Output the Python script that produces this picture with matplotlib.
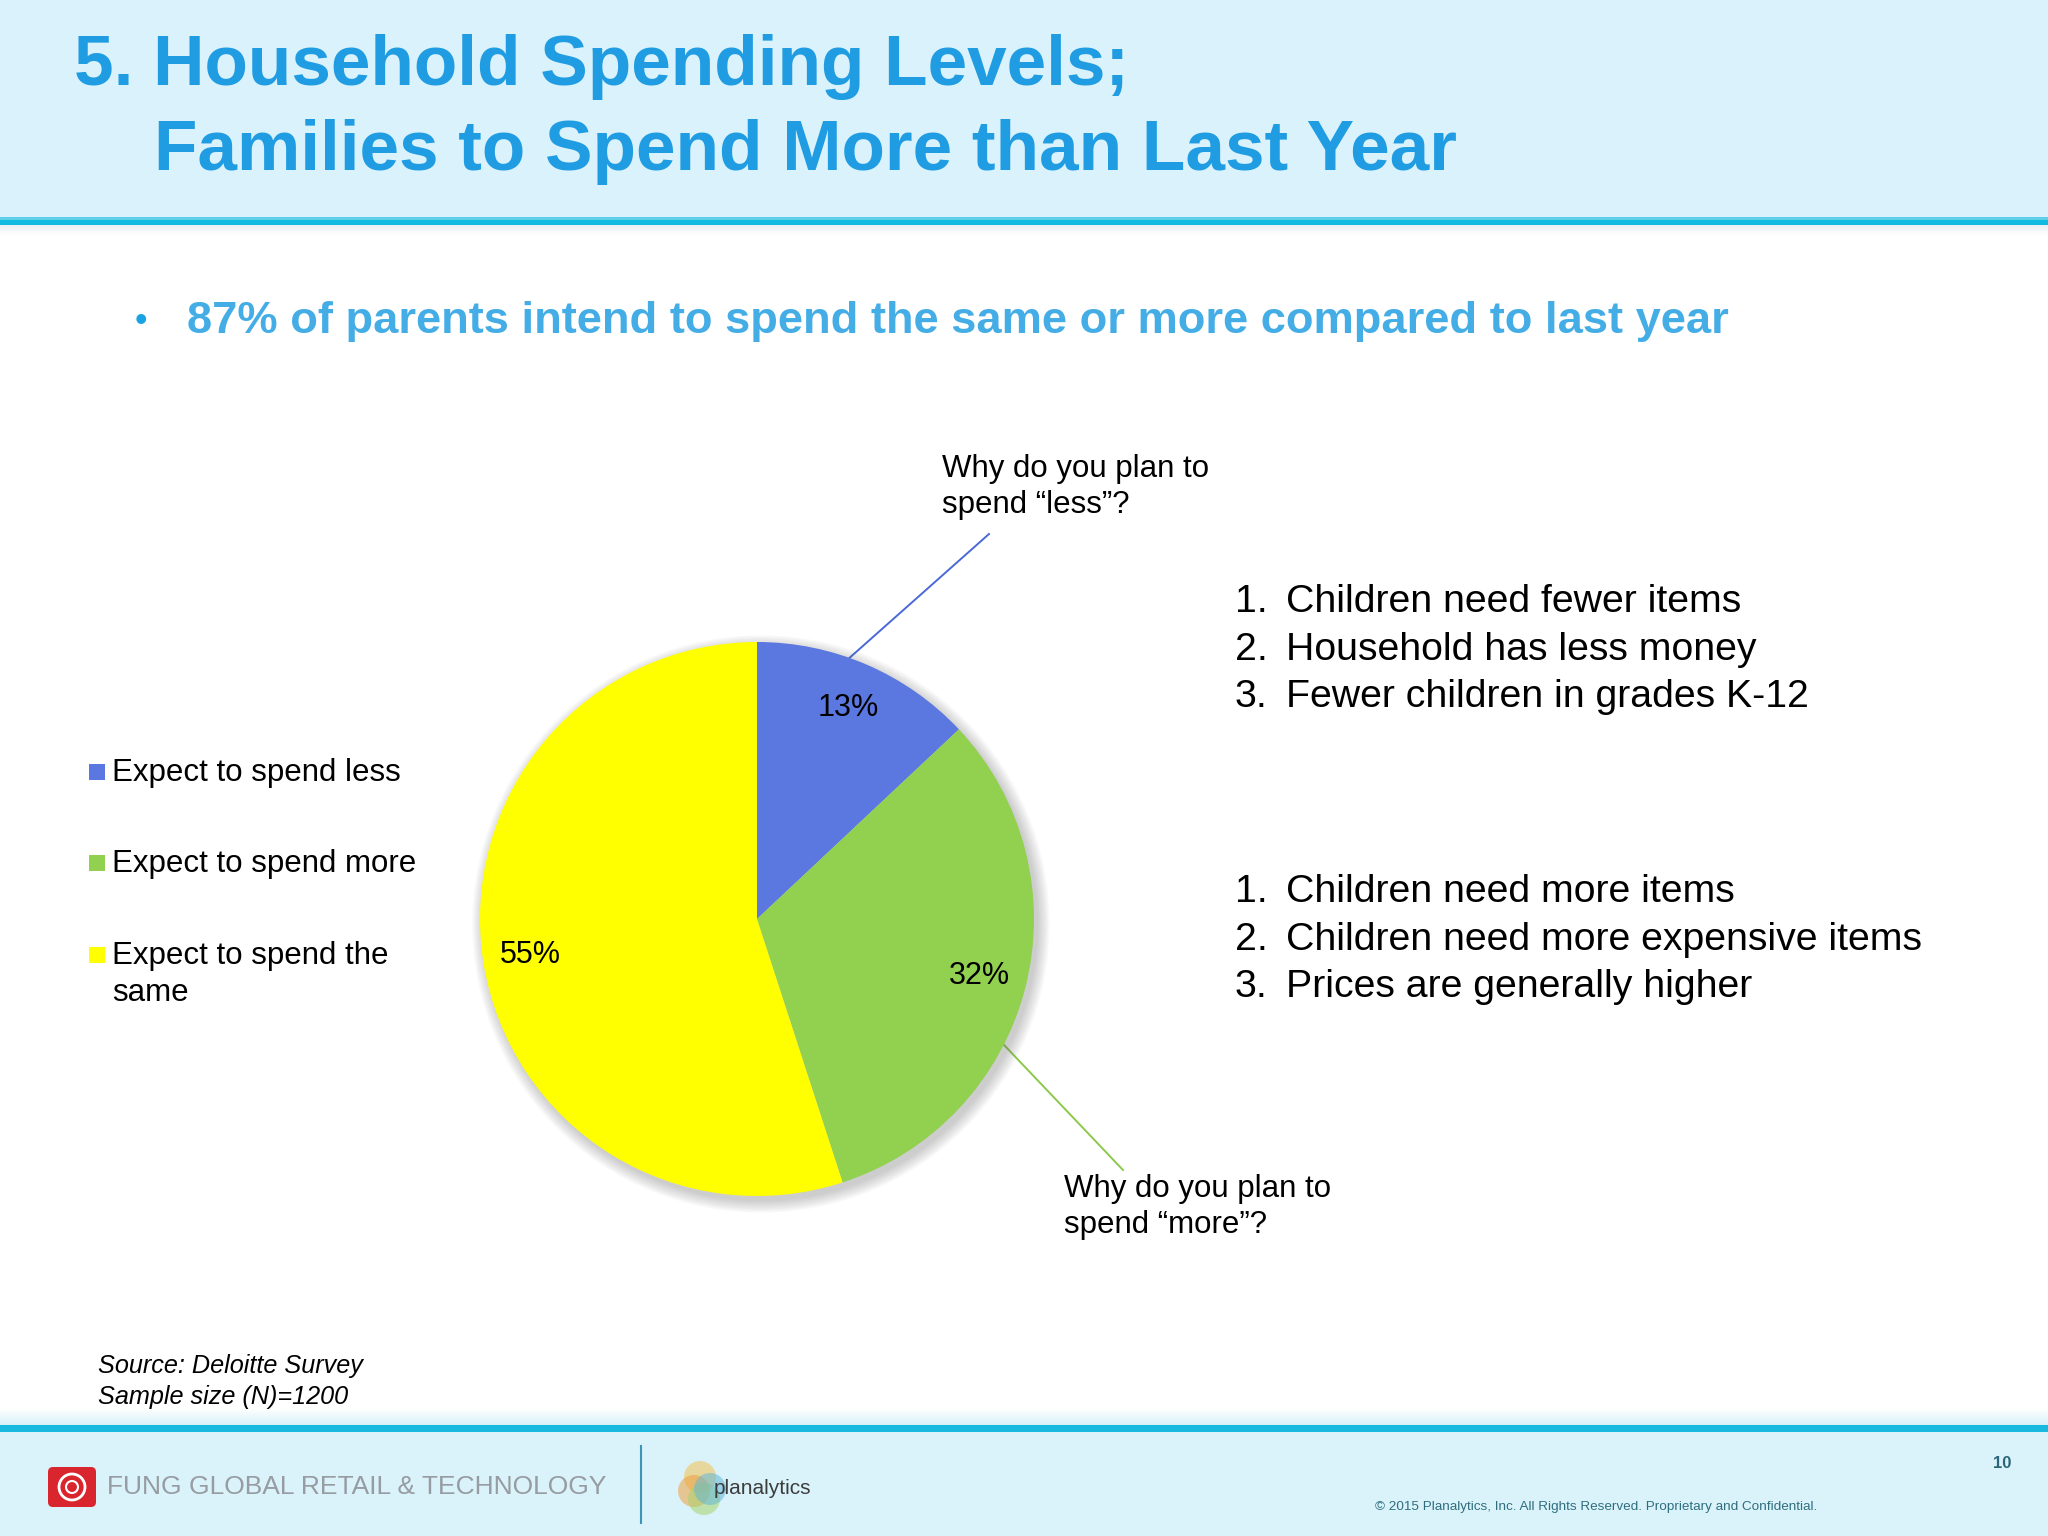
import numpy as np
import matplotlib
matplotlib.use("Agg")
import matplotlib.pyplot as plt
from matplotlib.patches import Rectangle, Circle, FancyBboxPatch

plt.rcParams['font.family'] = ['Liberation Sans', 'DejaVu Sans']

# ---- data ----
categories = ['Expect to spend less', 'Expect to spend more', 'Expect to spend the\nsame']
shares = [13, 32, 55]
colors = ['#5b77e0', '#92d050', '#ffff00']

title_lines = ['5. Household Spending Levels;', 'Families to Spend More than Last Year']
bullet = '87% of parents intend to spend the same or more compared to last year'
less_question = 'Why do you plan to\nspend \u201cless\u201d?'
more_question = 'Why do you plan to\nspend \u201cmore\u201d?'
less_reasons = ['Children need fewer items', 'Household has less money', 'Fewer children in grades K-12']
more_reasons = ['Children need more items', 'Children need more expensive items', 'Prices are generally higher']
source_lines = ['Source: Deloitte Survey', 'Sample size (N)=1200']

W, H = 2048, 1536
fig = plt.figure(figsize=(W / 100, H / 100), dpi=100)
fig.patch.set_facecolor('white')

bg = fig.add_axes([0, 0, 1, 1])
bg.set_xlim(0, W)
bg.set_ylim(H, 0)
bg.axis('off')

# header band
bg.add_patch(Rectangle((0, 0), W, 219, color='#d9f2fb', lw=0))
bg.add_patch(Rectangle((0, 217), W, 4, color='#5fd0ea', lw=0))
bg.add_patch(Rectangle((0, 220), W, 5, color='#12bbdf', lw=0))
for i in range(10):
    bg.add_patch(Rectangle((0, 225 + i), W, 1, color='#c8d6dc', alpha=0.35 * (1 - i / 10), lw=0))

# footer band
for i in range(18):
    bg.add_patch(Rectangle((0, 1408 + i), W, 1, color='#d4f0f9', alpha=i / 18, lw=0))
bg.add_patch(Rectangle((0, 1425), W, 7, color='#17b9de', lw=0))
bg.add_patch(Rectangle((0, 1432), W, H - 1432, color='#daf3fb', lw=0))

# title
bg.text(74, 67, title_lines[0], fontsize=51.2, fontweight='bold', color='#1f9ce2', va='center', ha='left')
bg.text(154, 152, title_lines[1], fontsize=51.2, fontweight='bold', color='#1f9ce2', va='center', ha='left')

# bullet
bg.text(141, 321, '\u2022', fontsize=26, color='#1aa3e2', va='center', ha='center')
bg.text(187, 321, bullet, fontsize=32.6, fontweight='bold', color='#45ade6', va='center', ha='left')

# pie
cx, cy, r = 757, 919, 277
pax = fig.add_axes([(cx - r) / W, 1 - (cy + r) / H, 2 * r / W, 2 * r / H])
for k in range(8):
    pax.add_patch(Circle((0.014, -0.018), 1.0 + k * 0.006, color='#606060', alpha=0.045,
                         lw=0, zorder=0, clip_on=False))
wedges, _, autotexts = pax.pie(shares, colors=colors, startangle=90, counterclock=False,
                               radius=1, autopct=lambda p: f'{p:.0f}%', pctdistance=0.83,
                               wedgeprops=dict(linewidth=0),
                               textprops=dict(fontsize=22, color='black'))
for w in wedges:
    w.set_zorder(2)
for t in autotexts:
    t.set_zorder(3)
pax.set_xlim(-1, 1)
pax.set_ylim(-1, 1)
pax.set_aspect('equal')
pax.axis('off')

# leader lines from the slice edge to the questions
leaders = [(70.5, (989, 534), '#4a68d8'), (-27.0, (1123, 1170), '#8cc84b')]
for ang, end, col in leaders:
    sx = cx + r * np.cos(np.radians(ang))
    sy = cy - r * np.sin(np.radians(ang))
    bg.plot([sx, end[0]], [sy, end[1]], color=col, lw=1.4)

bg.text(942, 487, less_question, fontsize=22.5, va='center', ha='left', linespacing=1.3)
bg.text(1064, 1207, more_question, fontsize=22.5, va='center', ha='left', linespacing=1.3)

# reason lists
for i, txt in enumerate(less_reasons):
    y = 602 + i * 47.5
    bg.text(1235, y, f'{i + 1}.', fontsize=28.3, va='center', ha='left')
    bg.text(1286, y, txt, fontsize=28.3, va='center', ha='left')
for i, txt in enumerate(more_reasons):
    y = 892 + i * 47.5
    bg.text(1235, y, f'{i + 1}.', fontsize=28.3, va='center', ha='left')
    bg.text(1286, y, txt, fontsize=28.3, va='center', ha='left')

# legend
leg_y = [772, 863, 955]
for lab, col, y in zip(categories, colors, leg_y):
    bg.add_patch(Rectangle((89, y - 8), 16, 16, color=col, lw=0))
    bg.text(112, y - 14, lab, fontsize=22.5, va='top', ha='left', linespacing=1.3)

# source
bg.text(98, 1366, source_lines[0], fontsize=18.2, style='italic', va='center', ha='left')
bg.text(98, 1397, source_lines[1], fontsize=18.2, style='italic', va='center', ha='left')

# footer logos
bg.add_patch(FancyBboxPatch((48, 1467), 48, 40, boxstyle='round,pad=0,rounding_size=5',
                            fc='#d9262e', ec='none'))
bg.add_patch(Circle((72, 1487), 13, fc='none', ec='white', lw=2))
bg.add_patch(Circle((72, 1487), 6, fc='none', ec='white', lw=1.5))
bg.text(107, 1487, 'FUNG GLOBAL RETAIL & TECHNOLOGY', fontsize=19, color='#969ca1',
        va='center', ha='left')
bg.plot([641, 641], [1446, 1523], color='#3d95b5', lw=1.5)
for (dx, dy, c) in [(0, -10, '#f2c14e'), (-6, 4, '#f0a040'), (4, 12, '#a8d16a'), (10, 2, '#63b8d8')]:
    bg.add_patch(Circle((700 + dx, 1487 + dy), 16, fc=c, ec='none', alpha=0.55))
bg.text(714, 1488, 'planalytics', fontsize=15, color='#3c3c3c', va='center', ha='left')
bg.text(2002, 1464, '10', fontsize=12, fontweight='bold', color='#2a6677', va='center', ha='center')
bg.text(1375, 1507, '\u00a9 2015 Planalytics, Inc. All Rights Reserved. Proprietary and Confidential.',
        fontsize=9.7, color='#2f6e7e', va='center', ha='left')

fig.savefig('out.png', dpi=100, facecolor=fig.get_facecolor())
